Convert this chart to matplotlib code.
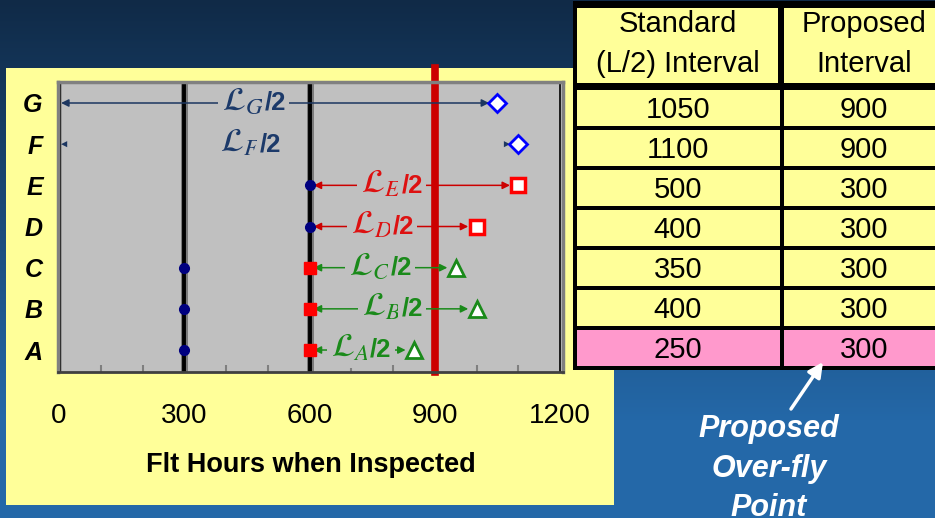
import numpy as np
import matplotlib
matplotlib.use('Agg')
import matplotlib.pyplot as plt
from matplotlib.patches import Rectangle
from matplotlib.ticker import MultipleLocator

plt.rcParams['font.family'] = ['Liberation Sans', 'DejaVu Sans']
plt.rcParams['mathtext.fontset'] = 'stix'

W, H = 935, 518

# ---- data -------------------------------------------------------------
rows = ['G', 'F', 'E', 'D', 'C', 'B', 'A']
standard_interval = [1050, 1100, 500, 400, 350, 400, 250]   # L/2
proposed_interval = [900, 900, 300, 300, 300, 300, 300]
interval_start = [0, 0, 600, 600, 600, 600, 600]
prior_rows = ['E', 'D', 'C', 'B', 'A']
prior_hours = [600, 600, 300, 300, 300]
overfly_rows = ['C', 'B', 'A']
overfly_hours = [600, 600, 600]
inspection_lines = [300, 600]
proposed_limit = 900
x_ticks = [0, 300, 600, 900, 1200]
x_label = 'Flt Hours when Inspected'
col_headers = [['Standard', '(L/2) Interval'], ['Proposed', 'Interval']]
callout = ['Proposed', 'Over-fly', 'Point']

# ---- styles per row ---------------------------------------------------
navy, red, green = '#1c3660', '#cc0000', '#1a8a1a'
row_color = {'G': navy, 'F': navy, 'E': red, 'D': red,
             'C': green, 'B': green, 'A': green}
label_color = {'G': '#1c3a6a', 'F': '#1c3a6a', 'E': '#dd1111', 'D': '#dd1111',
               'C': '#1a8a1a', 'B': '#1a8a1a', 'A': '#1a8a1a'}
end_marker = {'G': ('D', '#0000ff', 9, 2.0), 'F': ('D', '#0000ff', 9, 2.0),
              'E': ('s', '#ff0000', 10, 2.5), 'D': ('s', '#ff0000', 10, 2.5),
              'C': ('^', '#1a8a1a', 11, 2.0), 'B': ('^', '#1a8a1a', 11, 2.0),
              'A': ('^', '#1a8a1a', 11, 2.0)}
label_frac = [0.45, 0.42, 0.40, 0.45, 0.50, 0.50, 0.50]
ypos = {r: len(rows) - 1 - i for i, r in enumerate(rows)}

fig = plt.figure(figsize=(W / 100, H / 100), dpi=100)

# ---- slide background, panel, table ------------------------------------
bg = fig.add_axes([0, 0, 1, 1], zorder=0)
bg.set_xlim(0, W)
bg.set_ylim(H, 0)
bg.axis('off')
top = np.array([16, 42, 71]) / 255
bottom = np.array([36, 104, 168]) / 255
t = np.clip(np.arange(H) / 420.0, 0, 1)[:, None]
grad = (top[None, :] * (1 - t) + bottom[None, :] * t)[:, None, :]
bg.imshow(grad, extent=[0, W, H, 0], aspect='auto', zorder=0)

bg.add_patch(Rectangle((6, 68), 608, 437, fc='#ffff99', ec='none', zorder=1))

# table
bg.add_patch(Rectangle((573, 1), 380, 369, fc='black', ec='none', zorder=1))
col_x = [(577, 201), (784, 160)]
col_cx = [678, 864]
for (x0, w), cx, hdr in zip(col_x, col_cx, col_headers):
    bg.add_patch(Rectangle((x0, 8), w, 75, fc='#ffff99', ec='none', zorder=2))
    for line, base in zip(hdr, [32, 72]):
        bg.text(cx, base, line, ha='center', va='baseline', fontsize=21,
                color='black', zorder=3)
for i, (s, p) in enumerate(zip(standard_interval, proposed_interval)):
    y0 = 90 + 40 * i
    fc = '#ff99cc' if s < p else '#ffff99'
    for (x0, w), cx, val in zip([(577, 203), (784, 160)], col_cx, [s, p]):
        bg.add_patch(Rectangle((x0, y0), w, 36, fc=fc, ec='none', zorder=2))
        bg.text(cx, y0 + 28, str(val), ha='center', va='baseline', fontsize=21,
                color='black', zorder=3)

# callout
bg.annotate('', xy=(823, 362), xytext=(791, 409),
            arrowprops=dict(arrowstyle='-|>', color='white', lw=2.5,
                            mutation_scale=22, shrinkA=0, shrinkB=0), zorder=4)
for line, base in zip(callout, [437, 477, 516]):
    bg.text(769, base, line, ha='center', va='baseline', fontsize=22,
            fontweight='bold', fontstyle='italic', color='white', zorder=4)

# ---- main chart --------------------------------------------------------
ax = fig.add_axes([58 / W, 1 - 372 / H, 505 / W, 290 / H], zorder=2)
ax.set_facecolor('#c0c0c0')
ax.set_xlim(-2.4, 1207)
ax.set_ylim(-0.534, 6.51)

ax.axvline(0, color='#1a1a1a', lw=2.5, zorder=1)
ax.axvline(1200, color='black', lw=1.2, zorder=1)
for xv in inspection_lines:
    ax.axvline(xv, color='#7a7a7a', lw=5, zorder=1)
    ax.axvline(xv, color='black', lw=2.8, zorder=1.1)
ax.axvline(proposed_limit, ymin=0, ymax=1 + 14 / 290, color='#cc0000', lw=5.5,
           clip_on=False, zorder=1.2)

box = dict(boxstyle='square,pad=0.12', fc='#c0c0c0', ec='none')
for i, r in enumerate(rows):
    y = ypos[r]
    s0 = interval_start[i]
    s1 = s0 + standard_interval[i]
    c = row_color[r]
    lw = 0 if r == 'F' else 1.1
    shrink_a = 1.5 if s0 == 0 else 3
    ax.annotate('', xy=(s1, y), xytext=(s0, y),
                arrowprops=dict(arrowstyle='<|-|>', color=c, lw=lw,
                                mutation_scale=11, shrinkA=shrink_a, shrinkB=6),
                zorder=2)
    m, mc, ms, mew = end_marker[r]
    ax.plot([s1], [y], m, ms=ms, mfc='white', mec=mc, mew=mew, zorder=6)
    # label: script L with subscript, then "/2"
    lx = s0 + label_frac[i] * standard_interval[i]
    ax.annotate(r'$\mathcal{L}_{%s}$' % r, xy=(lx, y), xytext=(6, -5),
                textcoords='offset points', ha='right', va='baseline',
                fontsize=24, color=label_color[r], zorder=2.2, bbox=box)
    ax.annotate('/2', xy=(lx, y), xytext=(6, -5),
                textcoords='offset points', ha='left', va='baseline',
                fontsize=18.5, fontweight='bold', color=label_color[r],
                zorder=2.2, bbox=box)

ax.plot(prior_hours, [ypos[r] for r in prior_rows], 'o', color='#000080',
        ms=7, zorder=7)
ax.plot(overfly_hours, [ypos[r] for r in overfly_rows], 's', color='#ff0000',
        ms=8, zorder=7)

ax.set_xticks(x_ticks)
ax.xaxis.set_minor_locator(MultipleLocator(100))
ax.tick_params(axis='x', which='major', length=0, pad=22, labelsize=20)
ax.tick_params(axis='x', which='minor', direction='in', length=5, width=1.5,
               color='#7f7f7f')
ax.set_yticks(range(len(rows)))
ax.set_yticklabels(rows[::-1], fontsize=18, fontweight='bold', fontstyle='italic')
ax.tick_params(axis='y', length=0, pad=11)
ax.set_xlabel(x_label, fontsize=19.5, fontweight='bold', labelpad=17)

for name, sp in ax.spines.items():
    sp.set_color('#808080')
    sp.set_linewidth(2.5)
ax.spines['bottom'].set_color('#404040')
ax.spines['bottom'].set_linewidth(2)

fig.savefig('out.png', dpi=100)
